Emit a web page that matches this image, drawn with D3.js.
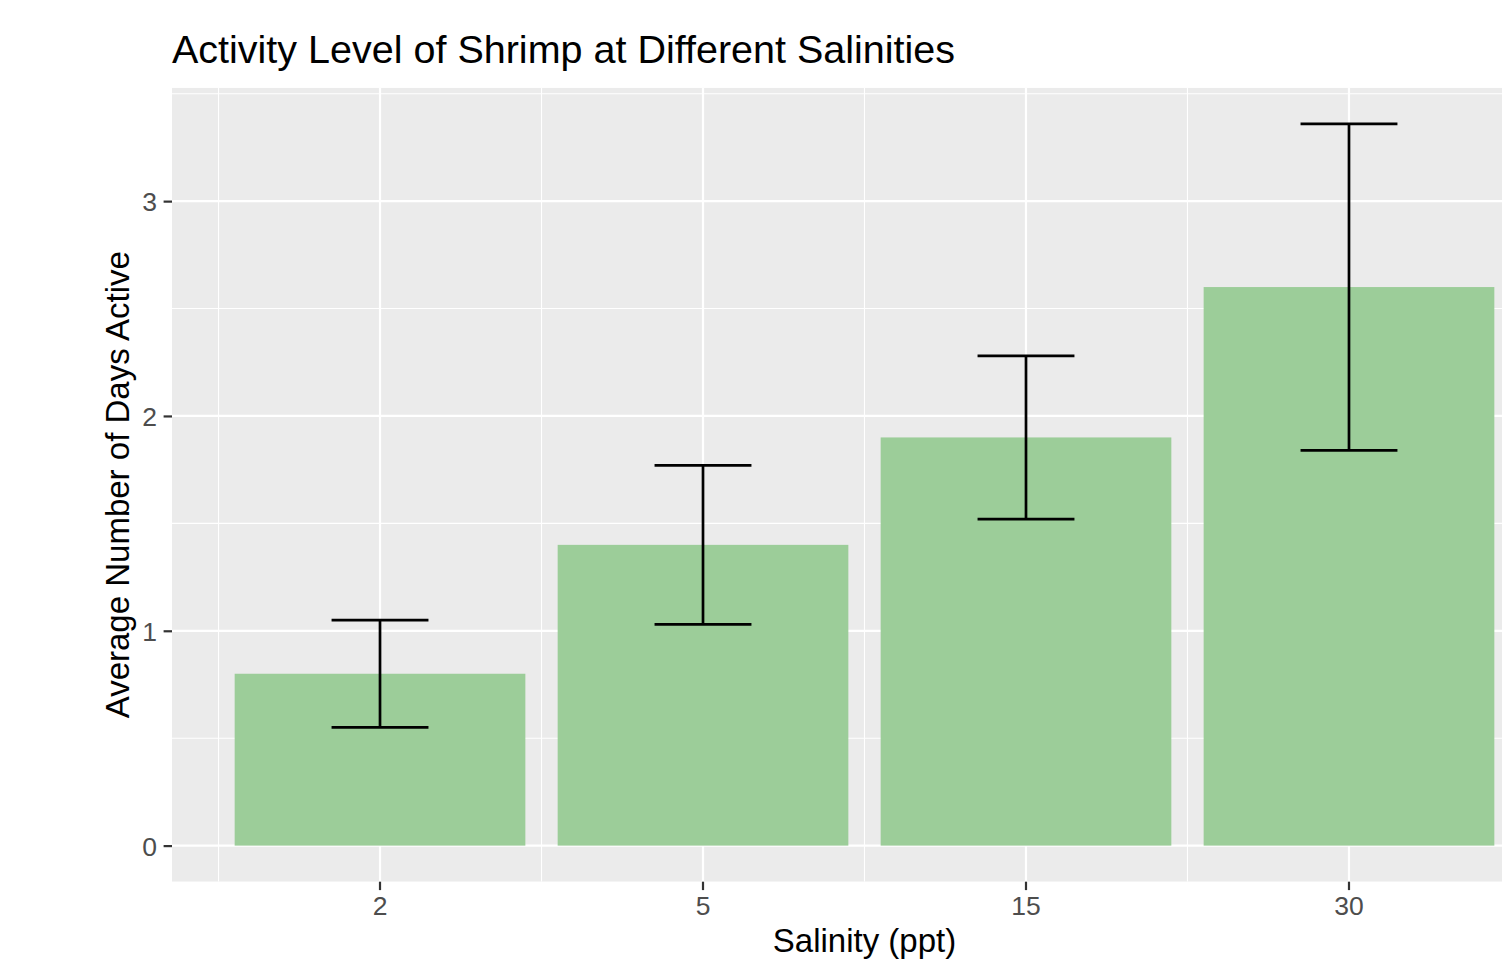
<!DOCTYPE html>
<html>
<head>
<meta charset="utf-8">
<script src="https://cdn.jsdelivr.net/npm/d3@7"></script>
<style>
  html, body { margin: 0; padding: 0; background: #ffffff; }
  svg { display: block; font-family: "Liberation Sans", Arial, Helvetica, sans-serif; }
</style>
</head>
<body>
<svg id="chart" width="1502" height="959"></svg>
<script>
// ---- data ----
const categories = ["2", "5", "15", "30"];
const meanValues = [0.8, 1.4, 1.9, 2.6];
const upperValues = [1.05, 1.77, 2.28, 3.36];
const lowerValues = [0.55, 1.03, 1.52, 1.84];
const yTickValues = [0, 1, 2, 3];
const yMinorValues = [0.5, 1.5, 2.5, 3.5];

const titleText = "Activity Level of Shrimp at Different Salinities";
const xTitleText = "Salinity (ppt)";
const yTitleText = "Average Number of Days Active";

// ---- layout ----
const W = 1502, H = 959;
const panel = { left: 172, right: 1557, top: 87.7, bottom: 881.7 };

const svg = d3.select("#chart");

const x = d3.scaleBand()
  .domain(categories)
  .range([panel.left, panel.right])
  .paddingInner(0)
  .paddingOuter(0.144);

const y = d3.scaleLinear()
  .domain([-0.168, 3.528])
  .range([panel.bottom, panel.top]);

const step = x.step();
const center = c => x(c) + x.bandwidth() / 2;

// clip for panel (image edge cuts right side)
svg.append("defs").append("clipPath").attr("id", "panelClip")
  .append("rect")
  .attr("x", panel.left).attr("y", panel.top)
  .attr("width", panel.right - panel.left).attr("height", panel.bottom - panel.top);

const g = svg.append("g").attr("clip-path", "url(#panelClip)");

// panel background
g.append("rect")
  .attr("x", panel.left).attr("y", panel.top)
  .attr("width", panel.right - panel.left).attr("height", panel.bottom - panel.top)
  .attr("fill", "#ebebeb");

// minor gridlines
g.selectAll("line.yminor").data(yMinorValues).join("line")
  .attr("x1", panel.left).attr("x2", panel.right)
  .attr("y1", d => y(d)).attr("y2", d => y(d))
  .attr("stroke", "#ffffff").attr("stroke-width", 1.1);

const xMinor = categories.map(c => x(c)).concat([x(categories[categories.length - 1]) + step]);
g.selectAll("line.xminor").data(xMinor).join("line")
  .attr("x1", d => d).attr("x2", d => d)
  .attr("y1", panel.top).attr("y2", panel.bottom)
  .attr("stroke", "#ffffff").attr("stroke-width", 1.1);

// major gridlines
g.selectAll("line.ymajor").data(yTickValues).join("line")
  .attr("x1", panel.left).attr("x2", panel.right)
  .attr("y1", d => y(d)).attr("y2", d => y(d))
  .attr("stroke", "#ffffff").attr("stroke-width", 2.2);

g.selectAll("line.xmajor").data(categories).join("line")
  .attr("x1", d => center(d)).attr("x2", d => center(d))
  .attr("y1", panel.top).attr("y2", panel.bottom)
  .attr("stroke", "#ffffff").attr("stroke-width", 2.2);

// bars
const barW = 0.9 * step;
g.selectAll("rect.bar").data(categories).join("rect")
  .attr("x", d => center(d) - barW / 2)
  .attr("width", barW)
  .attr("y", (d, i) => y(meanValues[i]))
  .attr("height", (d, i) => y(0) - y(meanValues[i]))
  .attr("fill", "#9ccd99");

// error bars
const capW = 0.3 * step;
const eb = g.selectAll("g.err").data(categories).join("g");
eb.append("line")
  .attr("x1", d => center(d)).attr("x2", d => center(d))
  .attr("y1", (d, i) => y(upperValues[i])).attr("y2", (d, i) => y(lowerValues[i]))
  .attr("stroke", "#000").attr("stroke-width", 2.7);
eb.append("line")
  .attr("x1", d => center(d) - capW / 2).attr("x2", d => center(d) + capW / 2)
  .attr("y1", (d, i) => y(upperValues[i])).attr("y2", (d, i) => y(upperValues[i]))
  .attr("stroke", "#000").attr("stroke-width", 2.7);
eb.append("line")
  .attr("x1", d => center(d) - capW / 2).attr("x2", d => center(d) + capW / 2)
  .attr("y1", (d, i) => y(lowerValues[i])).attr("y2", (d, i) => y(lowerValues[i]))
  .attr("stroke", "#000").attr("stroke-width", 2.7);

// axes
const yAxis = d3.axisLeft(y).tickValues(yTickValues).tickSize(8.4).tickPadding(6.5).tickFormat(d3.format("d"));
const yg = svg.append("g").attr("transform", `translate(${panel.left},0)`).call(yAxis);
yg.select(".domain").remove();
yg.selectAll(".tick line").attr("stroke", "#333333").attr("stroke-width", 2.2);
yg.selectAll(".tick text").attr("fill", "#4d4d4d").attr("font-size", 26.5)
  .attr("font-family", "Liberation Sans, Arial, sans-serif").attr("dy", "0.36em");

const xAxis = d3.axisBottom(x).tickSize(8.4).tickPadding(6.5);
const xg = svg.append("g").attr("transform", `translate(0,${panel.bottom})`).call(xAxis);
xg.select(".domain").remove();
xg.selectAll(".tick line").attr("stroke", "#333333").attr("stroke-width", 2.2);
xg.selectAll(".tick text").attr("fill", "#4d4d4d").attr("font-size", 26.5)
  .attr("font-family", "Liberation Sans, Arial, sans-serif").attr("dy", "0.71em");

// titles
svg.append("text")
  .attr("x", panel.left).attr("y", 63.3)
  .attr("font-size", 39.5).attr("fill", "#000")
  .text(titleText);

svg.append("text")
  .attr("x", (panel.left + panel.right) / 2).attr("y", 952)
  .attr("text-anchor", "middle")
  .attr("font-size", 33).attr("fill", "#000")
  .text(xTitleText);

svg.append("text")
  .attr("transform", `translate(128.5,${(panel.top + panel.bottom) / 2}) rotate(-90)`)
  .attr("text-anchor", "middle")
  .attr("font-size", 33).attr("fill", "#000")
  .text(yTitleText);
</script>
</body>
</html>
